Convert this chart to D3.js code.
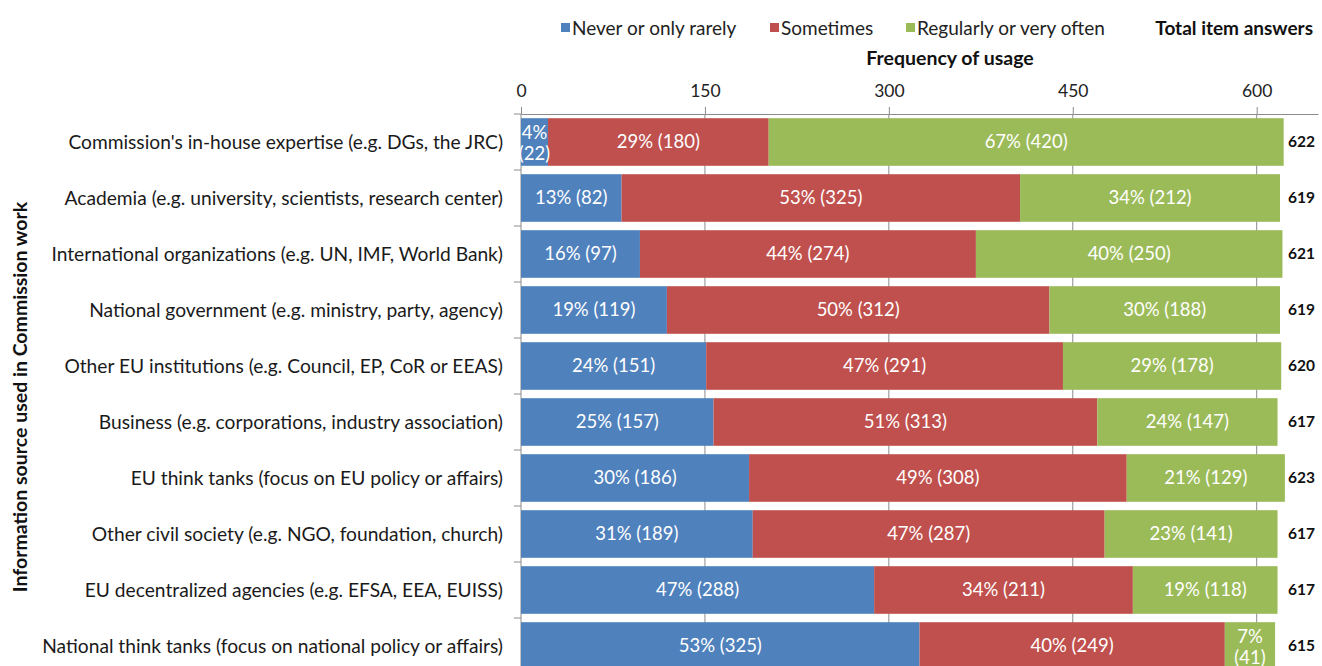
<!DOCTYPE html>
<html>
<head>
<meta charset="utf-8">
<script src="https://cdn.jsdelivr.net/npm/d3@7"></script>
<style>
  html, body { margin: 0; padding: 0; background: #fff; }
  svg { display: block; font-family: Lato, "Open Sans", sans-serif; }
</style>
</head>
<body>
<svg id="chart" width="1322" height="666"></svg>
<script>
// Information sources and how often they are used
const categories = [
  "Commission's in-house expertise (e.g. DGs, the JRC)",
  "Academia (e.g. university, scientists, research center)",
  "International organizations (e.g. UN, IMF, World Bank)",
  "National government (e.g. ministry, party, agency)",
  "Other EU institutions (e.g. Council, EP, CoR or EEAS)",
  "Business (e.g. corporations, industry association)",
  "EU think tanks (focus on EU policy or affairs)",
  "Other civil society (e.g. NGO, foundation, church)",
  "EU decentralized agencies (e.g. EFSA, EEA, EUISS)",
  "National think tanks (focus on national policy or affairs)"
];
const seriesNames = ["Never or only rarely", "Sometimes", "Regularly or very often"];
const neverCounts     = [22, 82, 97, 119, 151, 157, 186, 189, 288, 325];
const sometimesCounts = [180, 325, 274, 312, 291, 313, 308, 287, 211, 249];
const regularCounts   = [420, 212, 250, 188, 178, 147, 129, 141, 118, 41];
const neverPct        = [4, 13, 16, 19, 24, 25, 30, 31, 47, 53];
const sometimesPct    = [29, 53, 44, 50, 47, 51, 49, 47, 34, 40];
const regularPct      = [67, 34, 40, 30, 29, 24, 21, 23, 19, 7];
const totals          = [622, 619, 621, 619, 620, 617, 623, 617, 617, 615];
const tickValues      = [0, 150, 300, 450, 600];

const colors = ["#4F81BD", "#C0504D", "#9BBB59"];
const counts = [neverCounts, sometimesCounts, regularCounts];
const pcts = [neverPct, sometimesPct, regularPct];

const svg = d3.select("#chart");
svg.append("rect").attr("width", 1322).attr("height", 666).attr("fill", "#fff");

const x = d3.scaleLinear().domain([0, 650]).range([521, 1318]);
const y = d3.scaleBand().domain(categories).range([114, 674]).paddingInner(0.15).paddingOuter(0.075);
const axisColor = "#8c8c8c";
const plotTop = 114, plotBottom = 674;

// vertical gridlines
svg.append("g").selectAll("line")
  .data(tickValues.slice(1))
  .join("line")
  .attr("x1", d => x(d)).attr("x2", d => x(d))
  .attr("y1", plotTop).attr("y2", plotBottom)
  .attr("stroke", axisColor).attr("stroke-width", 1);

// top value axis
const xAxis = svg.append("g")
  .attr("transform", `translate(0,${plotTop})`)
  .call(d3.axisTop(x).tickValues(tickValues).tickSizeInner(7).tickSizeOuter(0).tickPadding(10));
xAxis.select(".domain").attr("stroke", axisColor);
xAxis.selectAll(".tick line").attr("stroke", axisColor);
xAxis.selectAll(".tick text")
  .attr("font-family", "Lato, sans-serif")
  .attr("font-size", 17.5).attr("fill", "#222");

// left category axis line with ticks at band boundaries
svg.append("line")
  .attr("x1", x(0)).attr("x2", x(0)).attr("y1", plotTop).attr("y2", plotBottom)
  .attr("stroke", axisColor);
const step = y.step();
svg.append("g").selectAll("line")
  .data(d3.range(categories.length + 1))
  .join("line")
  .attr("x1", x(0) - 7).attr("x2", x(0))
  .attr("y1", i => plotTop + i * step).attr("y2", i => plotTop + i * step)
  .attr("stroke", axisColor);

// stacked segments
const rows = categories.map((c, i) => {
  let acc = 0;
  return counts.map((arr, s) => {
    const seg = { cat: c, s, x0: acc, x1: acc + arr[i], v: arr[i], p: pcts[s][i] };
    acc += arr[i];
    return seg;
  });
}).flat();

svg.append("g").selectAll("rect")
  .data(rows)
  .join("rect")
  .attr("x", d => x(d.x0))
  .attr("width", d => x(d.x1) - x(d.x0))
  .attr("y", d => y(d.cat))
  .attr("height", y.bandwidth())
  .attr("fill", d => colors[d.s]);

// segment labels; narrow segments get the count on a second line
const lab = svg.append("g")
  .attr("font-size", 18.5)
  .attr("fill", "#fff")
  .attr("text-anchor", "middle");
rows.forEach(d => {
  const cx = (x(d.x0) + x(d.x1)) / 2;
  const cy = y(d.cat) + y.bandwidth() / 2;
  const w = x(d.x1) - x(d.x0);
  if (w < 60) {
    lab.append("text").attr("x", cx).attr("y", cy - 3).text(`${d.p}%`);
    lab.append("text").attr("x", cx).attr("y", cy + 18).text(`(${d.v})`);
  } else {
    lab.append("text").attr("x", cx).attr("y", cy).attr("dy", "0.35em").text(`${d.p}% (${d.v})`);
  }
});

// category labels
svg.append("g").selectAll("text")
  .data(categories)
  .join("text")
  .attr("x", 503)
  .attr("y", d => y(d) + y.bandwidth() / 2)
  .attr("dy", "0.35em")
  .attr("text-anchor", "end")
  .attr("font-size", 19.2)
  .attr("fill", "#1a1a1a")
  .text(d => d);

// totals
svg.append("g").selectAll("text")
  .data(categories)
  .join("text")
  .attr("x", 1288)
  .attr("y", d => y(d) + y.bandwidth() / 2)
  .attr("dy", "0.35em")
  .attr("font-size", 15.5)
  .attr("font-weight", "bold")
  .attr("fill", "#111")
  .text((d, i) => totals[i]);

// axis titles
svg.append("text")
  .attr("x", 950).attr("y", 58)
  .attr("dy", "0.35em")
  .attr("text-anchor", "middle")
  .attr("font-size", 19.5).attr("font-weight", "bold").attr("fill", "#111")
  .text("Frequency of usage");

svg.append("text")
  .attr("transform", `translate(20,397) rotate(-90)`)
  .attr("dy", "0.35em")
  .attr("text-anchor", "middle")
  .attr("font-size", 19.5).attr("font-weight", "bold").attr("fill", "#111")
  .text("Information source used in Commission work");

// legend
const legendX = [561, 770, 906];
const lg = svg.append("g");
seriesNames.forEach((n, i) => {
  lg.append("rect").attr("x", legendX[i]).attr("y", 23).attr("width", 9).attr("height", 9).attr("fill", colors[i]);
  lg.append("text").attr("x", legendX[i] + 11).attr("y", 28).attr("dy", "0.35em")
    .attr("font-size", 19).attr("fill", "#222").text(n);
});
lg.append("text").attr("x", 1313).attr("y", 28).attr("dy", "0.35em")
  .attr("text-anchor", "end")
  .attr("font-size", 19).attr("font-weight", "bold").attr("fill", "#111")
  .text("Total item answers");
</script>
</body>
</html>
